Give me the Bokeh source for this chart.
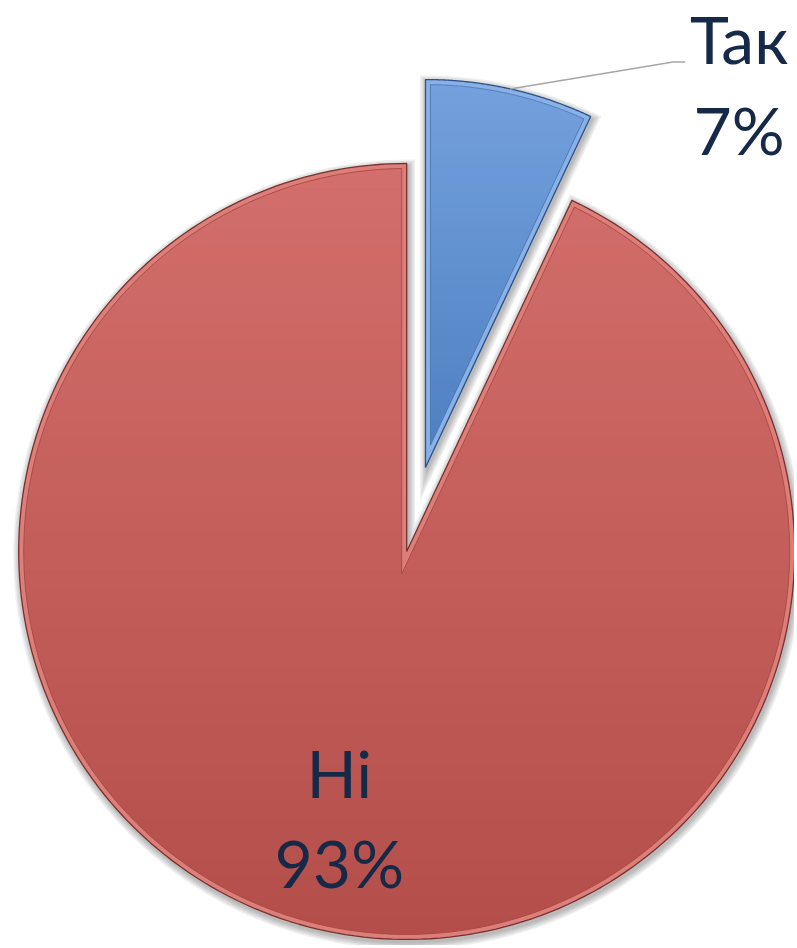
import numpy as np
from bokeh.plotting import figure
from bokeh.models import Range1d
from bokeh.embed import file_html
from bokeh.resources import INLINE
from bokeh.core.properties import value

# ---------------- data ----------------
categories = ["Так", "Ні"]
shares = [7, 93]
pct_labels = ["7%", "93%"]

# ---------------- style ----------------
W, H = 794, 945
ORIGIN = 1                          # observed page offset of the canvas
PIE_CX, PIE_CY = 412.0, 417.5      # pie centre (data units = pixels, y up)
RADIUS = 388.0
EXPLODE = [64.0, 22.0]
BEVEL = 5.0
FONT = "Lato"
FONT_SIZE = "66px"
TEXT_RAISE_OUT = 23
TEXT_RAISE_IN = 27
TEXT_COLOR = "#162A48"
fill_top = ["#74A1DD", "#D26E6B"]
fill_bot = ["#4F80C2", "#B44E4A"]
bevel_col = ["#8AB1E6", "#DC7E7A"]
edge_col = ["#2C5289", "#7A302D"]
inner_col = ["#4A76B2", "#A9463F"]

p = figure(width=W, height=H, output_backend="svg", toolbar_location=None,
           x_range=Range1d(ORIGIN, ORIGIN + W), y_range=Range1d(948 - ORIGIN - H, 948 - ORIGIN),
           x_axis_location=None, y_axis_location=None, min_border=0)
p.grid.visible = False
p.outline_line_color = None
p.background_fill_color = "white"
p.border_fill_color = "white"


def inset_poly(cx, cy, r, a0, a1, d, n=240):
    span = a0 - a1
    half = span / 2.0
    mid = (a0 + a1) / 2.0
    vshift = d / np.sin(half)
    vx = cx + vshift * np.cos(mid)
    vy = cy + vshift * np.sin(mid)
    delta = np.arcsin(d / (r - d))
    t = np.linspace(a0 - delta, a1 + delta, n)
    xs = np.concatenate([[vx], cx + (r - d) * np.cos(t)])
    ys = np.concatenate([[vy], cy + (r - d) * np.sin(t)])
    return xs, ys


def clip_half(pts, keep_above, yc):
    out = []
    for i in range(len(pts)):
        cur, prev = pts[i], pts[i - 1]
        cin = cur[1] >= yc if keep_above else cur[1] <= yc
        pin = prev[1] >= yc if keep_above else prev[1] <= yc
        if cin != pin:
            t = (yc - prev[1]) / (cur[1] - prev[1])
            out.append((prev[0] + t * (cur[0] - prev[0]), yc))
        if cin:
            out.append(cur)
    return out


def band(xs, ys, y0, y1):
    pts = list(zip(xs, ys))
    pts = clip_half(pts, True, y0)
    if pts:
        pts = clip_half(pts, False, y1)
    return pts


def mix(c1, c2, f):
    a = [int(c1[i:i + 2], 16) for i in (1, 3, 5)]
    b = [int(c2[i:i + 2], 16) for i in (1, 3, 5)]
    return "#%02x%02x%02x" % tuple(int(round(a[k] + (b[k] - a[k]) * f)) for k in range(3))


total = float(sum(shares))
angles = []
a = np.pi / 2
for v in shares:
    span = 2 * np.pi * v / total
    angles.append((a, a - span))
    a -= span

centers = []
for (a0, a1), e in zip(angles, EXPLODE):
    mid = (a0 + a1) / 2
    centers.append((PIE_CX + e * np.cos(mid), PIE_CY + e * np.sin(mid)))

# shadows
for i, ((a0, a1), (cx, cy)) in enumerate(zip(angles, centers)):
    for s in [7, 5.5, 4, 2.5, 1]:
        xs, ys = inset_poly(cx + 1.5, cy - 3, RADIUS, a0, a1, -s)
        p.patch(xs, ys, fill_color="black", fill_alpha=0.06, line_color=None)

for i, ((a0, a1), (cx, cy)) in enumerate(zip(angles, centers)):
    # outer (bevel) shape
    xs, ys = inset_poly(cx, cy, RADIUS, a0, a1, 0.0)
    p.patch(xs, ys, fill_color=bevel_col[i], line_color=edge_col[i], line_width=1.3)
    # inner gradient body
    ixs, iys = inset_poly(cx, cy, RADIUS, a0, a1, BEVEL)
    ytop, ybot = iys.max(), iys.min()
    p.patch(ixs, iys, fill_color=mix(fill_top[i], fill_bot[i], 0.5), line_color=None)
    nb = 40
    edges = np.linspace(ybot, ytop, nb + 1)
    bx, by, bc = [], [], []
    for k in range(nb):
        pts = band(ixs, iys, edges[k] - 0.6, edges[k + 1] + 0.6)
        if len(pts) < 3:
            continue
        bx.append([q[0] for q in pts])
        by.append([q[1] for q in pts])
        f = 1 - ((edges[k] + edges[k + 1]) / 2 - ybot) / (ytop - ybot)
        bc.append(mix(fill_top[i], fill_bot[i], f))
    p.patches(bx, by, fill_color=bc, line_color=None)
    p.patch(ixs, iys, fill_color=None, line_color=inner_col[i], line_width=1, line_alpha=0.8)

# labels
# blue (outside, with leader line)
(a0, a1), (cx, cy) = angles[0], centers[0]
mid = (a0 + a1) / 2
sx, sy = cx + RADIUS * np.cos(mid), cy + RADIUS * np.sin(mid)
ex, ey = sx + 163, sy + 27
p.line([sx, ex, ex + 12], [sy, ey, ey], line_color="#A6A6A6", line_width=1.5)
p.text(x=[ex + 66], y=[ey + TEXT_RAISE_OUT], text=[categories[0]], text_align="center",
       text_baseline="alphabetic", text_font=value(FONT), text_font_size=FONT_SIZE, text_color=TEXT_COLOR)
p.text(x=[ex + 66], y=[ey - 91 + TEXT_RAISE_OUT], text=[pct_labels[0]], text_align="center",
       text_baseline="alphabetic", text_font=value(FONT), text_font_size=FONT_SIZE, text_color=TEXT_COLOR)

# red (inside)
(a0, a1), (cx, cy) = angles[1], centers[1]
mid = (a0 + a1) / 2
lx, ly = cx + 0.69 * RADIUS * np.cos(mid), cy + 0.69 * RADIUS * np.sin(mid)
p.text(x=[lx - 9], y=[ly + 13 + TEXT_RAISE_IN], text=[categories[1]], text_align="center",
       text_baseline="alphabetic", text_font=value(FONT), text_font_size=FONT_SIZE, text_color=TEXT_COLOR)
p.text(x=[lx - 9], y=[ly - 77 + TEXT_RAISE_IN], text=[pct_labels[1]], text_align="center",
       text_baseline="alphabetic", text_font=value(FONT), text_font_size=FONT_SIZE, text_color=TEXT_COLOR)

open("out.html", "w").write(file_html(p, INLINE))
